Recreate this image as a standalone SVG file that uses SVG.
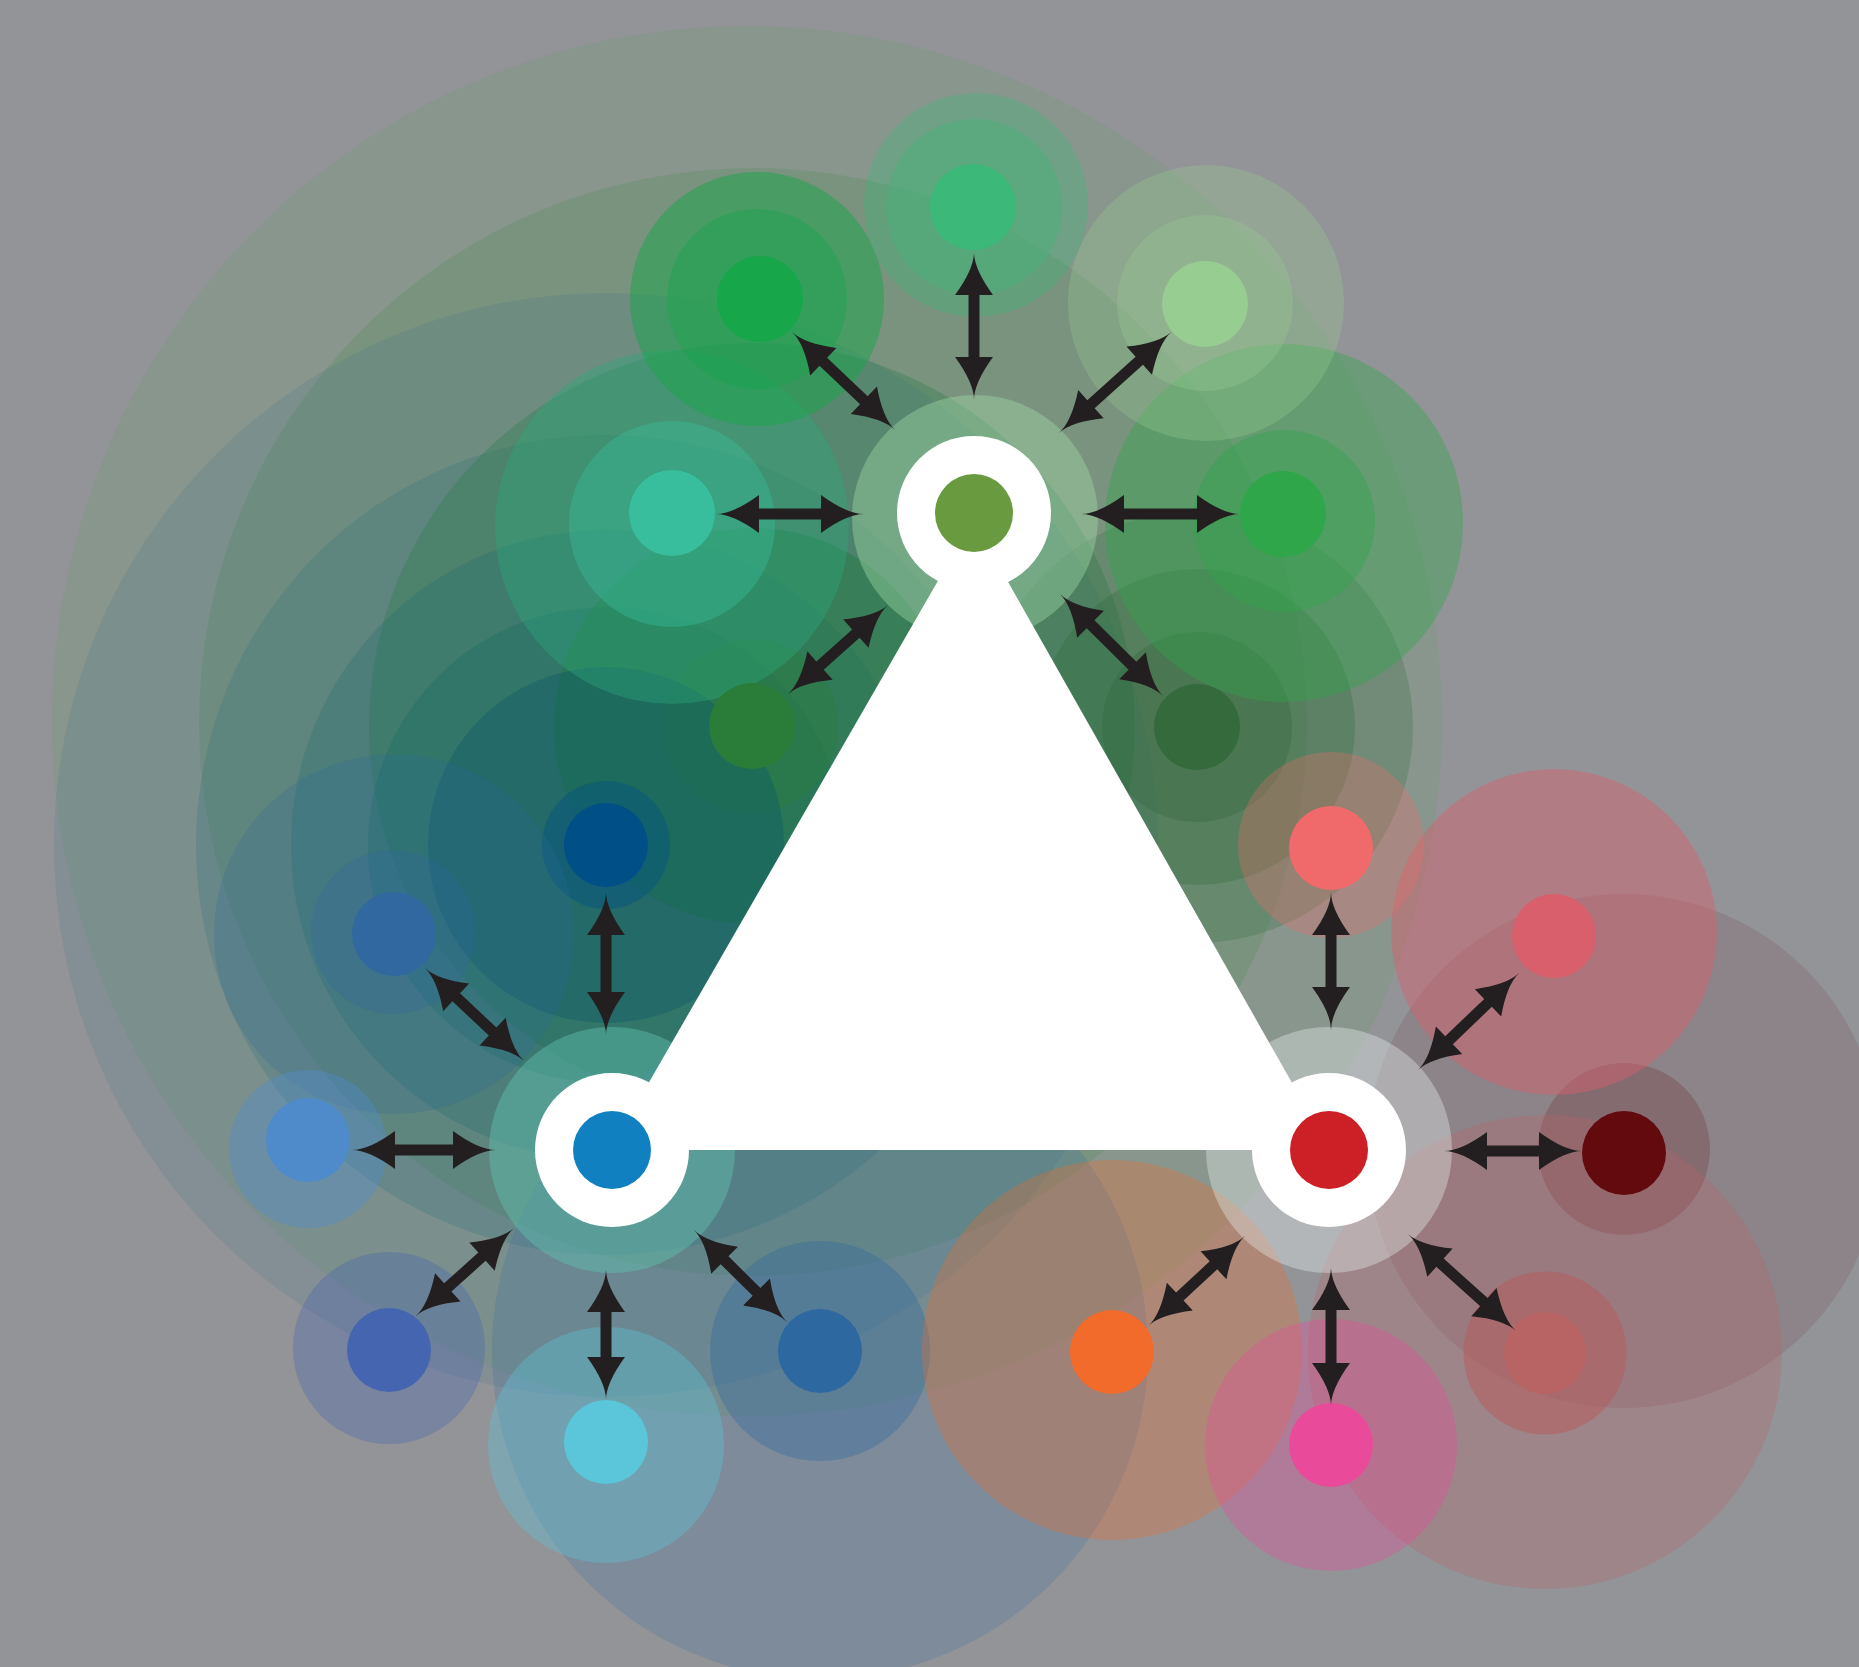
<svg xmlns="http://www.w3.org/2000/svg" width="1859" height="1667" viewBox="0 0 1859 1667">
<style>
.arr{fill:#231f20}
.ring{fill:#ffffff}
</style>
<defs>
  <path id="a148" d="M0,0Q17,0 43,-19V-5.5H105V-19Q131,0 148,0Q131,0 105,19V5.5H43V19Q17,0 0,0Z"/>
</defs>
<rect width="1859" height="1667" fill="#939498"/>
<g id="halos">
  <g id="halo-big">
    <circle cx="747" cy="721" r="695" fill="#6a9a6c" fill-opacity="0.25"/>
    <circle cx="753" cy="722" r="554" fill="#5a9060" fill-opacity="0.3"/>
    <circle cx="606" cy="845" r="552" fill="#2a6a88" fill-opacity="0.14"/>
    <circle cx="606" cy="845" r="410" fill="#1f6a78" fill-opacity="0.2"/>
    <circle cx="752" cy="726" r="383" fill="#2a7d48" fill-opacity="0.33"/>
    <circle cx="606" cy="845" r="315" fill="#1a6a70" fill-opacity="0.25"/>
    <circle cx="606" cy="845" r="238" fill="#156a60" fill-opacity="0.3"/>
  </g>
  <g id="halo-g-lowleft">
    <circle cx="752" cy="726" r="198" fill="#1f7a40" fill-opacity="0.45"/>
    <circle cx="751" cy="726" r="87" fill="#2a7d38" fill-opacity="0.35"/>
  </g>
  <g id="halo-b-top">
    <circle cx="606" cy="845" r="178" fill="#0d5a6a" fill-opacity="0.4"/>
    <circle cx="606" cy="845" r="64" fill="#004f87" fill-opacity="0.4"/>
  </g>
  <g id="halo-g-lowright">
    <circle cx="1197" cy="727" r="216" fill="#2f6a3c" fill-opacity="0.25"/>
    <circle cx="1197" cy="727" r="158" fill="#2f6a3c" fill-opacity="0.3"/>
    <circle cx="1197" cy="727" r="95" fill="#346a3c" fill-opacity="0.35"/>
  </g>
  <g id="halo-g-left">
    <circle cx="672" cy="527" r="177" fill="#2aa77a" fill-opacity="0.4"/>
    <circle cx="672" cy="524" r="103" fill="#38be9c" fill-opacity="0.4"/>
  </g>
  <g id="halo-g-right">
    <circle cx="1284" cy="523" r="179" fill="#2fa64a" fill-opacity="0.4"/>
    <circle cx="1284" cy="521" r="91" fill="#2fa64a" fill-opacity="0.4"/>
  </g>
  <g id="halo-g-upleft">
    <circle cx="757" cy="299" r="127" fill="#17a64a" fill-opacity="0.5"/>
    <circle cx="757" cy="299" r="90" fill="#17a64a" fill-opacity="0.4"/>
  </g>
  <g id="halo-g-top">
    <circle cx="976" cy="205" r="112" fill="#3cb878" fill-opacity="0.35"/>
    <circle cx="974" cy="207" r="88" fill="#3cb878" fill-opacity="0.35"/>
  </g>
  <g id="halo-g-upright">
    <circle cx="1206" cy="303" r="138" fill="#98cd91" fill-opacity="0.3"/>
    <circle cx="1205" cy="303" r="88" fill="#98cd91" fill-opacity="0.3"/>
  </g>
  <g id="halo-b-upleft">
    <circle cx="394" cy="934" r="180" fill="#2a6a9a" fill-opacity="0.22"/>
    <circle cx="393" cy="932" r="82" fill="#30689f" fill-opacity="0.3"/>
  </g>
  <g id="halo-b-left">
    <circle cx="308" cy="1149" r="79" fill="#4f8bcb" fill-opacity="0.4"/>
  </g>
  <g id="halo-b-lowleft">
    <circle cx="389" cy="1348" r="96" fill="#4565b0" fill-opacity="0.33"/>
  </g>
  <g id="halo-b-lowright">
    <circle cx="820" cy="1351" r="328" fill="#3a70a0" fill-opacity="0.25"/>
    <circle cx="820" cy="1351" r="110" fill="#2e68a0" fill-opacity="0.35"/>
  </g>
  <g id="halo-b-down">
    <circle cx="606" cy="1445" r="118" fill="#5bc6da" fill-opacity="0.37"/>
  </g>
  <g id="halo-r-right">
    <circle cx="1624" cy="1151" r="257" fill="#630a0e" fill-opacity="0.11"/>
    <circle cx="1624" cy="1149" r="86" fill="#630a0e" fill-opacity="0.2"/>
  </g>
  <g id="halo-r-lowright">
    <circle cx="1545" cy="1352" r="237" fill="#b86468" fill-opacity="0.3"/>
    <circle cx="1545" cy="1353" r="81.5" fill="#b85a5c" fill-opacity="0.5"/>
  </g>
  <g id="halo-r-upright">
    <circle cx="1554" cy="932" r="163" fill="#d95f6d" fill-opacity="0.45"/>
  </g>
  <g id="halo-r-top">
    <circle cx="1331" cy="845" r="93" fill="#f06a6b" fill-opacity="0.3"/>
  </g>
  <g id="halo-r-lowleft">
    <circle cx="1112" cy="1350" r="190" fill="#f26b2b" fill-opacity="0.3"/>
  </g>
  <g id="halo-r-down">
    <circle cx="1331" cy="1445" r="126" fill="#e94b9a" fill-opacity="0.34"/>
  </g>
  <g id="halo-hubs">
    <circle cx="975" cy="518" r="123" fill="#a0d8a8" fill-opacity="0.42"/>
    <circle cx="612" cy="1150" r="123" fill="#60c0b0" fill-opacity="0.45"/>
    <circle cx="1329" cy="1150" r="123" fill="#e4e8e8" fill-opacity="0.4"/>
  </g>
</g>
<g id="triangle">
  <polygon points="973,520 610,1150 1330,1150" fill="#ffffff"/>
</g>
<g id="hub-top"><circle class="ring" cx="974" cy="513" r="77"/><circle cx="974" cy="513" r="39" fill="#6a9a3f"/></g>
<g id="hub-left"><circle class="ring" cx="612" cy="1150" r="77"/><circle cx="612" cy="1150" r="39" fill="#1080c0"/></g>
<g id="hub-right"><circle class="ring" cx="1329" cy="1150" r="77"/><circle cx="1329" cy="1150" r="39" fill="#cc1f26"/></g>
<g id="node-g-top"><circle cx="973" cy="207" r="43" fill="#3cb878"/></g>
<g id="node-g-upleft"><circle cx="760" cy="299" r="43" fill="#17a64a"/></g>
<g id="node-g-upright"><circle cx="1205" cy="304" r="43" fill="#98cd91"/></g>
<g id="node-g-left"><circle cx="672" cy="513" r="43" fill="#38be9c"/></g>
<g id="node-g-right"><circle cx="1283" cy="514" r="43" fill="#2fa64a"/></g>
<g id="node-g-lowleft"><circle cx="752" cy="726" r="43" fill="#2a7d38"/></g>
<g id="node-g-lowright"><circle cx="1197" cy="727" r="43" fill="#346a3c"/></g>
<g id="node-b-top"><circle cx="606" cy="845" r="42" fill="#004f87"/></g>
<g id="node-b-upleft"><circle cx="394" cy="934" r="42" fill="#30689f"/></g>
<g id="node-b-left"><circle cx="308" cy="1140" r="42" fill="#4f8bcb"/></g>
<g id="node-b-lowleft"><circle cx="389" cy="1350" r="42" fill="#4565b0"/></g>
<g id="node-b-down"><circle cx="606" cy="1442" r="42" fill="#5bc6da"/></g>
<g id="node-b-lowright"><circle cx="820" cy="1351" r="42" fill="#2e68a0"/></g>
<g id="node-r-top"><circle cx="1331" cy="848" r="42" fill="#f06a6b"/></g>
<g id="node-r-upright"><circle cx="1554" cy="936" r="42" fill="#d95f6d"/></g>
<g id="node-r-right"><circle cx="1624" cy="1153" r="42" fill="#630a0e"/></g>
<g id="node-r-lowright"><circle cx="1545" cy="1353" r="41" fill="#b86464"/></g>
<g id="node-r-down"><circle cx="1331" cy="1445" r="42" fill="#e94b9a"/></g>
<g id="node-r-lowleft"><circle cx="1112" cy="1352" r="42" fill="#f26b2b"/></g>
<g id="connectors">
  <use href="#a148" class="arr" transform="translate(974,400) rotate(-90)"/>
  <path class="arr" transform="translate(1081,514)" d="M0,0Q17,0 43,-19V-5.5H116V-19Q142,0 159,0Q142,0 116,19V5.5H43V19Q17,0 0,0Z"/>
  <use href="#a148" class="arr" transform="translate(864,514) rotate(180)"/>
  <path class="arr" transform="translate(895,430) rotate(-136.4)" d="M0,0Q17,0 43,-19V-5.5H99V-19Q125,0 142,0Q125,0 99,19V5.5H43V19Q17,0 0,0Z"/>
  <path class="arr" transform="translate(1059,433) rotate(-42)" d="M0,0Q17,0 43,-19V-5.5H108V-19Q134,0 151,0Q134,0 108,19V5.5H43V19Q17,0 0,0Z"/>
  <path class="arr" transform="translate(1060,594) rotate(44.7)" d="M0,0Q17,0 43,-19V-5.5H102V-19Q128,0 145,0Q128,0 102,19V5.5H43V19Q17,0 0,0Z"/>
  <path class="arr" transform="translate(888,605) rotate(138.3)" d="M0,0Q17,0 43,-19V-5.5H91V-19Q117,0 134,0Q117,0 91,19V5.5H43V19Q17,0 0,0Z"/>
  <path class="arr" transform="translate(606,1035) rotate(-90)" d="M0,0Q17,0 43,-19V-5.5H100V-19Q126,0 143,0Q126,0 100,19V5.5H43V19Q17,0 0,0Z"/>
  <path class="arr" transform="translate(524,1061) rotate(-136.8)" d="M0,0Q17,0 43,-19V-5.5H93V-19Q119,0 136,0Q119,0 93,19V5.5H43V19Q17,0 0,0Z"/>
  <path class="arr" transform="translate(496,1150) rotate(180)" d="M0,0Q17,0 43,-19V-5.5H101V-19Q127,0 144,0Q127,0 101,19V5.5H43V19Q17,0 0,0Z"/>
  <path class="arr" transform="translate(514,1228) rotate(138.1)" d="M0,0Q17,0 43,-19V-5.5H89V-19Q115,0 132,0Q115,0 89,19V5.5H43V19Q17,0 0,0Z"/>
  <path class="arr" transform="translate(606,1269) rotate(90)" d="M0,0Q17,0 43,-19V-5.5H88V-19Q114,0 131,0Q114,0 88,19V5.5H43V19Q17,0 0,0Z"/>
  <path class="arr" transform="translate(694,1230) rotate(44.7)" d="M0,0Q17,0 43,-19V-5.5H88V-19Q114,0 131,0Q114,0 88,19V5.5H43V19Q17,0 0,0Z"/>
  <path class="arr" transform="translate(1331,1030) rotate(-90)" d="M0,0Q17,0 43,-19V-5.5H95V-19Q121,0 138,0Q121,0 95,19V5.5H43V19Q17,0 0,0Z"/>
  <path class="arr" transform="translate(1418,1070) rotate(-43.8)" d="M0,0Q17,0 43,-19V-5.5H97V-19Q123,0 140,0Q123,0 97,19V5.5H43V19Q17,0 0,0Z"/>
  <path class="arr" transform="translate(1444,1151)" d="M0,0Q17,0 43,-19V-5.5H95V-19Q121,0 138,0Q121,0 95,19V5.5H43V19Q17,0 0,0Z"/>
  <path class="arr" transform="translate(1408,1234) rotate(41.9)" d="M0,0Q17,0 43,-19V-5.5H102V-19Q128,0 145,0Q128,0 102,19V5.5H43V19Q17,0 0,0Z"/>
  <path class="arr" transform="translate(1331,1267) rotate(90)" d="M0,0Q17,0 43,-19V-5.5H96V-19Q122,0 139,0Q122,0 96,19V5.5H43V19Q17,0 0,0Z"/>
  <path class="arr" transform="translate(1245,1236) rotate(137.1)" d="M0,0Q17,0 43,-19V-5.5H89V-19Q115,0 132,0Q115,0 89,19V5.5H43V19Q17,0 0,0Z"/>
</g>
</svg>
